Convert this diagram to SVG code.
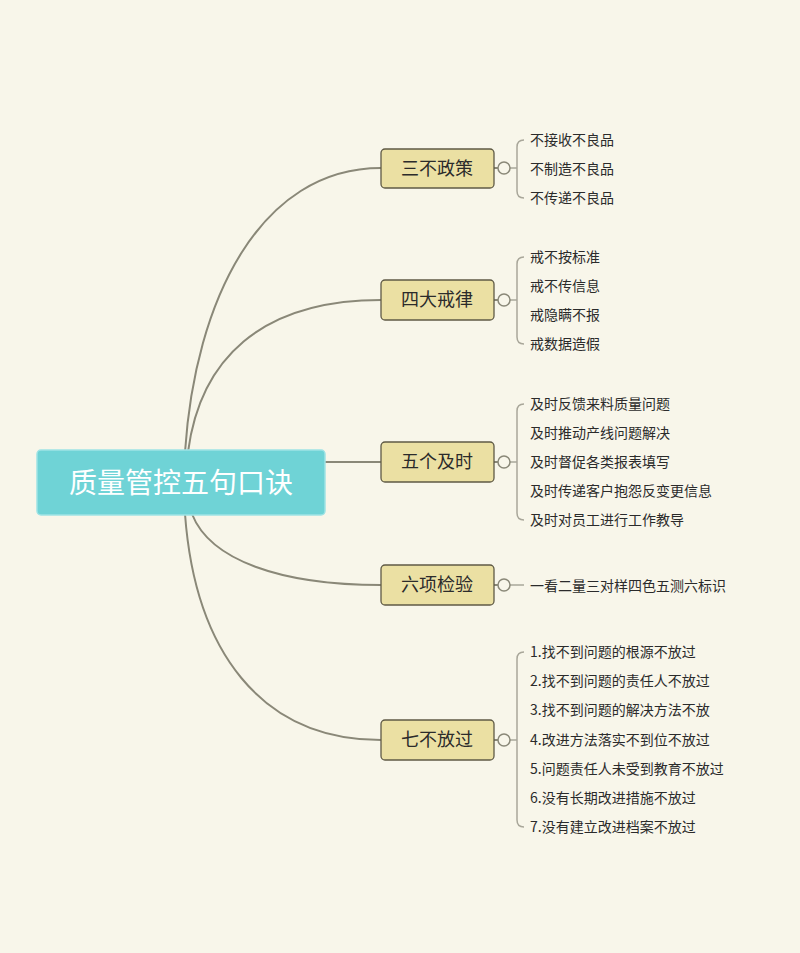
<svg xmlns="http://www.w3.org/2000/svg" width="800" height="953" viewBox="0 0 800 953">
<style>
.c{fill:none;stroke:#8a8878;stroke-width:2}
.b{fill:none;stroke:#a9a79a;stroke-width:1.5}
.n{fill:#ebe0a3;stroke:#5f5a45;stroke-width:1.3}
.t{font-family:"Noto Sans CJK SC","Noto Sans",sans-serif;fill:#2b2b2b}
.nt{font-size:18px;text-anchor:middle}
.lt{font-size:14px}
.o{fill:#f8f6ea;stroke:#8a8878;stroke-width:1.5}
</style>
<rect width="800" height="953" fill="#f8f6ea"/>
<g id="connectors">
<path class="c" d="M185 452 C195 300 260 168 381 168"/>
<path class="c" d="M188 452 C200 360 260 300 381 300"/>
<path class="c" d="M325 462 L381 462"/>
<path class="c" d="M192 514 C210 560 280 585 381 585"/>
<path class="c" d="M185 514 C195 650 260 740 381 740"/>
<g>
<line class="c" x1="494" y1="168" x2="498" y2="168"/><line class="b" x1="510" y1="168" x2="517" y2="168"/>
<path class="b" d="M524 140 Q517 140 517 147 L517 191 Q517 198 524 198"/>
<line class="c" x1="494" y1="300" x2="498" y2="300"/><line class="b" x1="510" y1="300" x2="517" y2="300"/>
<path class="b" d="M524 257 Q517 257 517 264 L517 337 Q517 344 524 344"/>
<line class="c" x1="494" y1="462" x2="498" y2="462"/><line class="b" x1="510" y1="462" x2="517" y2="462"/>
<path class="b" d="M524 404 Q517 404 517 411 L517 513 Q517 520 524 520"/>
<line class="c" x1="494" y1="585" x2="498" y2="585"/><line class="b" x1="510" y1="585" x2="524" y2="585"/>
<line class="c" x1="494" y1="740" x2="498" y2="740"/><line class="b" x1="510" y1="740" x2="517" y2="740"/>
<path class="b" d="M524 652 Q517 652 517 659 L517 820 Q517 827 524 827"/>
</g>
</g>
<g id="root">
<rect x="37" y="450" width="288" height="65" rx="4" fill="#6fd3d6" stroke="#9ee3e5" stroke-width="1.5"/>
<text x="181" y="493" font-size="28" text-anchor="middle" fill="#fff" font-family="Noto Sans CJK SC,sans-serif">质量管控五句口诀</text>
</g>
<g id="n1"><rect class="n" x="381" y="149" width="113" height="39" rx="4"/><text class="t nt" x="437" y="175">三不政策</text><circle class="o" cx="504" cy="168" r="6"/>
<text class="t lt" x="530" y="145">不接收不良品</text><text class="t lt" x="530" y="174">不制造不良品</text><text class="t lt" x="530" y="203">不传递不良品</text></g>
<g id="n2"><rect class="n" x="381" y="280" width="113" height="40" rx="4"/><text class="t nt" x="437" y="306">四大戒律</text><circle class="o" cx="504" cy="300" r="6"/>
<text class="t lt" x="530" y="262">戒不按标准</text><text class="t lt" x="530" y="291">戒不传信息</text><text class="t lt" x="530" y="320">戒隐瞒不报</text><text class="t lt" x="530" y="349">戒数据造假</text></g>
<g id="n3"><rect class="n" x="381" y="442" width="113" height="40" rx="4"/><text class="t nt" x="437" y="468">五个及时</text><circle class="o" cx="504" cy="462" r="6"/>
<text class="t lt" x="530" y="409">及时反馈来料质量问题</text><text class="t lt" x="530" y="438">及时推动产线问题解决</text><text class="t lt" x="530" y="467">及时督促各类报表填写</text><text class="t lt" x="530" y="496">及时传递客户抱怨反变更信息</text><text class="t lt" x="530" y="525">及时对员工进行工作教导</text></g>
<g id="n4"><rect class="n" x="381" y="565" width="113" height="40" rx="4"/><text class="t nt" x="437" y="591">六项检验</text><circle class="o" cx="504" cy="585" r="6"/>
<text class="t lt" x="530" y="591">一看二量三对样四色五测六标识</text></g>
<g id="n5"><rect class="n" x="381" y="720" width="113" height="40" rx="4"/><text class="t nt" x="437" y="746">七不放过</text><circle class="o" cx="504" cy="740" r="6"/>
<text class="t lt" x="530" y="657">1.找不到问题的根源不放过</text><text class="t lt" x="530" y="686">2.找不到问题的责任人不放过</text><text class="t lt" x="530" y="715">3.找不到问题的解决方法不放</text><text class="t lt" x="530" y="745">4.改进方法落实不到位不放过</text><text class="t lt" x="530" y="774">5.问题责任人未受到教育不放过</text><text class="t lt" x="530" y="803">6.没有长期改进措施不放过</text><text class="t lt" x="530" y="832">7.没有建立改进档案不放过</text></g>
</svg>
